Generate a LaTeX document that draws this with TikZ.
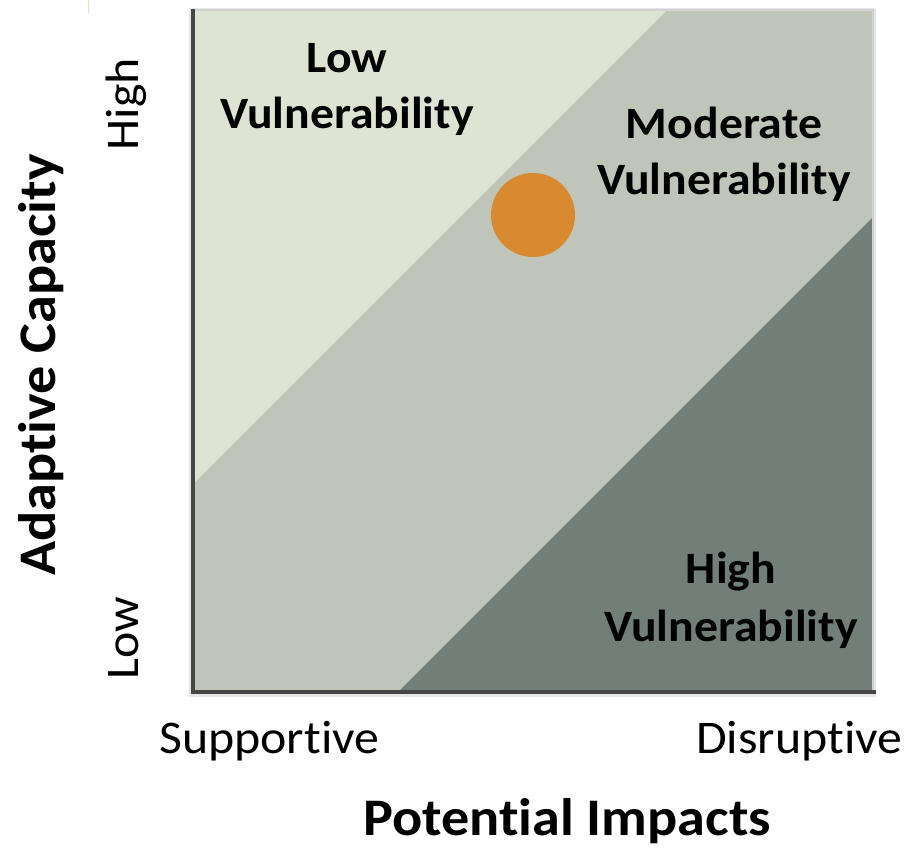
\documentclass[tikz,border=0pt]{standalone}
\usepackage{fontspec}
\setmainfont{Carlito}[FakeStretch=1.065, Ligatures=NoCommon]
\definecolor{lightreg}{HTML}{DEE4D3}
\definecolor{midreg}{HTML}{C0C5B9}
\definecolor{darkreg}{HTML}{727E78}
\definecolor{dotc}{HTML}{D98A30}
\definecolor{framedark}{HTML}{464646}
\definecolor{framelight}{HTML}{D2D2D2}
\definecolor{shadowc}{HTML}{E6E6E6}
\definecolor{tanline}{HTML}{EADCB8}
\tikzset{
  reglabel/.style={anchor=base, inner sep=0pt, font=\bfseries\fontsize{45}{54}\selectfont},
  ticklabel/.style={anchor=base, inner sep=0pt, font=\fontsize{47}{56}\selectfont},
  axislabel/.style={anchor=base, inner sep=0pt, font=\bfseries\fontsize{53}{64}\selectfont},
}
\begin{document}
\begin{tikzpicture}[x=1bp, y=-1bp]
\useasboundingbox (0,0) rectangle (917,848);
% artifact line at top left
\draw[tanline, line width=1] (88,0) -- (88,13);
% frame shadow
\fill[shadowc] (189,8) rectangle (876,697);
% regions
\fill[midreg] (193,10) rectangle (873,690);
\fill[lightreg] (193,10) -- (667,10) -- (193,484) -- cycle;
\fill[darkreg] (400,690) -- (873,690) -- (873,217) -- cycle;
% frame
\draw[framelight, line width=2] (193,10) -- (873,10) -- (873,690);
\draw[framedark, line width=4] (193,9) -- (193,692) -- (876,692);
% point
\node[circle, fill=dotc, minimum size=84bp, inner sep=0pt] (dot) at (533,215) {};
% region labels
\node[reglabel] (lowa) at (347,72) {Low};
\node[reglabel] (lowb) at (347,128) {Vulnerability};
\node[reglabel] (moda) at (724,138) {Moderate};
\node[reglabel] (modb) at (724,194) {Vulnerability};
\node[reglabel] (higha) at (731,583) {High};
\node[reglabel] (highb) at (731,641) {Vulnerability};
% axis tick labels
\node[ticklabel, anchor=base west] (supp) at (159,753) {Supportive};
\node[ticklabel, anchor=base west] (disr) at (696,753) {Disruptive};
\node[ticklabel, rotate=90] (yhigh) at (138,104) {High};
\node[ticklabel, rotate=90] (ylow) at (138,638) {Low};
% axis titles
\node[axislabel] (xtitle) at (567,835) {Potential Impacts};
\node[axislabel, rotate=90] (ytitle) at (55,365) {Adaptive Capacity};
\end{tikzpicture}
\end{document}
